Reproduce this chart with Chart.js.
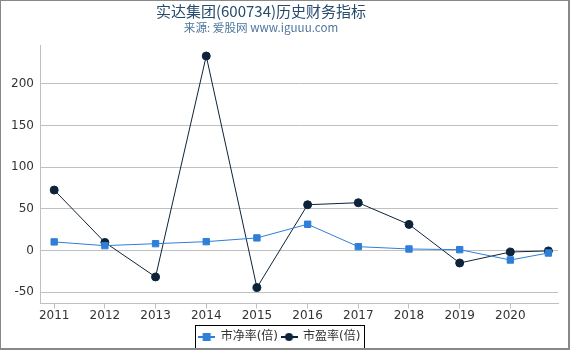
<!DOCTYPE html>
<html>
<head>
<meta charset="utf-8">
<script src="https://cdn.jsdelivr.net/npm/chart.js@4.4.1/dist/chart.umd.min.js"></script>
<style>
    body { margin: 0; background: #fff; }
    #box {
        width: 570px; height: 350px; box-sizing: border-box;
        border-left: 1px solid #888; border-top: 1px solid #888;
        border-right: 2px solid #888; border-bottom: 2px solid #888;
        position: relative;
    }
</style>
</head>
<body>
<div id="box"><canvas id="c"></canvas></div>
<script>
// dữ liệu
var years = [2011, 2012, 2013, 2014, 2015, 2016, 2017, 2018, 2019, 2020, 2020.75];
var pbData = [10.5, 6, 8.4, 10.8, 15.3, 31.7, 4.8, 2, 1.2, -11.2, -2.8];
var peData = [72.7, 9.9, -31.5, 233.5, -44.3, 55.1, 57.5, 31.5, -14.8, -1.6, -0.3];
var xTicks = [2011, 2012, 2013, 2014, 2015, 2016, 2017, 2018, 2019, 2020];
var yTicks = [-50, 0, 50, 100, 150, 200];
var seriesNames = ['市净率(倍)', '市盈率(倍)'];
var titleText = '实达集团(600734)历史财务指标';
var subtitleText = '来源: 爱股网 www.iguuu.com';

var font = "'DejaVu Sans', 'Noto Sans CJK SC', sans-serif";
var cjkFont = "'Noto Sans CJK SC', 'DejaVu Sans', sans-serif";
var blue = '#2f7ed8';
var navy = '#0d233a';

function toPoints(vals) {
    return years.map(function (y, i) { return { x: y, y: vals[i] }; });
}

// biểu tượng chú thích: đường + điểm
function legendIcon(color, shape) {
    var cv = document.createElement('canvas');
    cv.width = 17; cv.height = 10;
    var g = cv.getContext('2d');
    g.strokeStyle = color; g.lineWidth = 2;
    g.beginPath(); g.moveTo(0, 5); g.lineTo(17, 5); g.stroke();
    g.fillStyle = color;
    if (shape == 'rect') {
        g.fillRect(4.5, 1, 8, 8);
    } else {
        g.beginPath(); g.arc(8.5, 5, 4, 0, Math.PI * 2); g.fill();
    }
    return cv;
}
var icons = [legendIcon(blue, 'rect'), legendIcon(navy, 'circle')];

// tiêu đề vẽ tay
var titles = {
    id: 'titles',
    afterDraw: function (chart) {
        var ctx = chart.ctx;
        ctx.save();
        ctx.textAlign = 'center';
        ctx.textBaseline = 'middle';
        ctx.fillStyle = '#274b6d';
        ctx.font = '15px ' + cjkFont;
        ctx.fillText(titleText, 260, 10);
        ctx.fillStyle = '#4d759e';
        ctx.font = '11.6px ' + cjkFont;
        ctx.fillText(subtitleText, 260, 27);
        ctx.restore();
    }
};

var legendBorder = {
    id: 'legendBorder',
    afterDraw: function (chart) {
        var boxes = chart.legend.legendHitBoxes;
        if (!boxes || !boxes.length) return;
        var l = Math.min.apply(null, boxes.map(b => b.left));
        var r = Math.max.apply(null, boxes.map(b => b.left + b.width));
        var t = Math.min.apply(null, boxes.map(b => b.top));
        var b2 = Math.max.apply(null, boxes.map(b => b.top + b.height));
        var ctx = chart.ctx;
        ctx.save();
        ctx.strokeStyle = '#000';
        ctx.lineWidth = 1;
        ctx.strokeRect(Math.round(l) - 3.5, Math.round(t) - 5.5, Math.round(r - l) + 7, Math.round(b2 - t) + 11);
        ctx.restore();
    }
};

new Chart(document.getElementById('c'), {
    type: 'line',
    data: {
        datasets: [{
            label: seriesNames[0],
            data: toPoints(pbData),
            borderColor: blue,
            backgroundColor: blue,
            borderWidth: 1,
            pointStyle: 'rect',
            pointRadius: 4.5,
            pointHoverRadius: 4.5,
            tension: 0
        }, {
            label: seriesNames[1],
            data: toPoints(peData),
            borderColor: navy,
            backgroundColor: navy,
            borderWidth: 1,
            pointStyle: 'circle',
            pointRadius: 4,
            pointHoverRadius: 4,
            tension: 0
        }]
    },
    options: {
        responsive: true,
        maintainAspectRatio: false,
        animation: false,
        layout: { padding: { left: 0, right: 10, top: 44, bottom: -5 } },
        plugins: {
            title: { display: false },
            legend: {
                position: 'bottom',
                labels: {
                    usePointStyle: true,
                    pointStyleWidth: 16,
                    color: '#333',
                    padding: 3,
                    font: { family: font, size: 12 },
                    generateLabels: function (chart) {
                        return chart.data.datasets.map(function (ds, i) {
                            return {
                                text: ds.label,
                                pointStyle: icons[i],
                                fillStyle: ds.borderColor,
                                strokeStyle: ds.borderColor,
                                lineWidth: 0,
                                fontColor: '#333',
                                datasetIndex: i,
                                hidden: false
                            };
                        });
                    }
                }
            },
            tooltip: { enabled: false }
        },
        scales: {
            x: {
                type: 'linear',
                min: 2010.72,
                max: 2020.94,
                afterBuildTicks: function (scale) {
                    scale.ticks = xTicks.map(v => ({ value: v }));
                },
                afterFit: function (scale) { scale.height += 5; },
                ticks: {
                    color: '#333',
                    font: { family: font, size: 12 },
                    padding: 0,
                    maxRotation: 0,
                    callback: function (v) { return String(v); }
                },
                grid: { drawOnChartArea: false, drawTicks: true, tickLength: 5, color: '#c0c0c0' },
                border: { color: '#c0c0c0' }
            },
            y: {
                min: -63.5,
                max: 246.7,
                afterBuildTicks: function (scale) {
                    scale.ticks = yTicks.map(v => ({ value: v }));
                },
                afterFit: function (scale) { scale.width = 39; },
                ticks: {
                    color: '#333',
                    font: { family: font, size: 12 },
                    padding: 6
                },
                grid: { drawTicks: false, color: '#c0c0c0' },
                border: { color: '#c0c0c0' }
            }
        }
    },
    plugins: [titles, legendBorder]
});
</script>
</body>
</html>
